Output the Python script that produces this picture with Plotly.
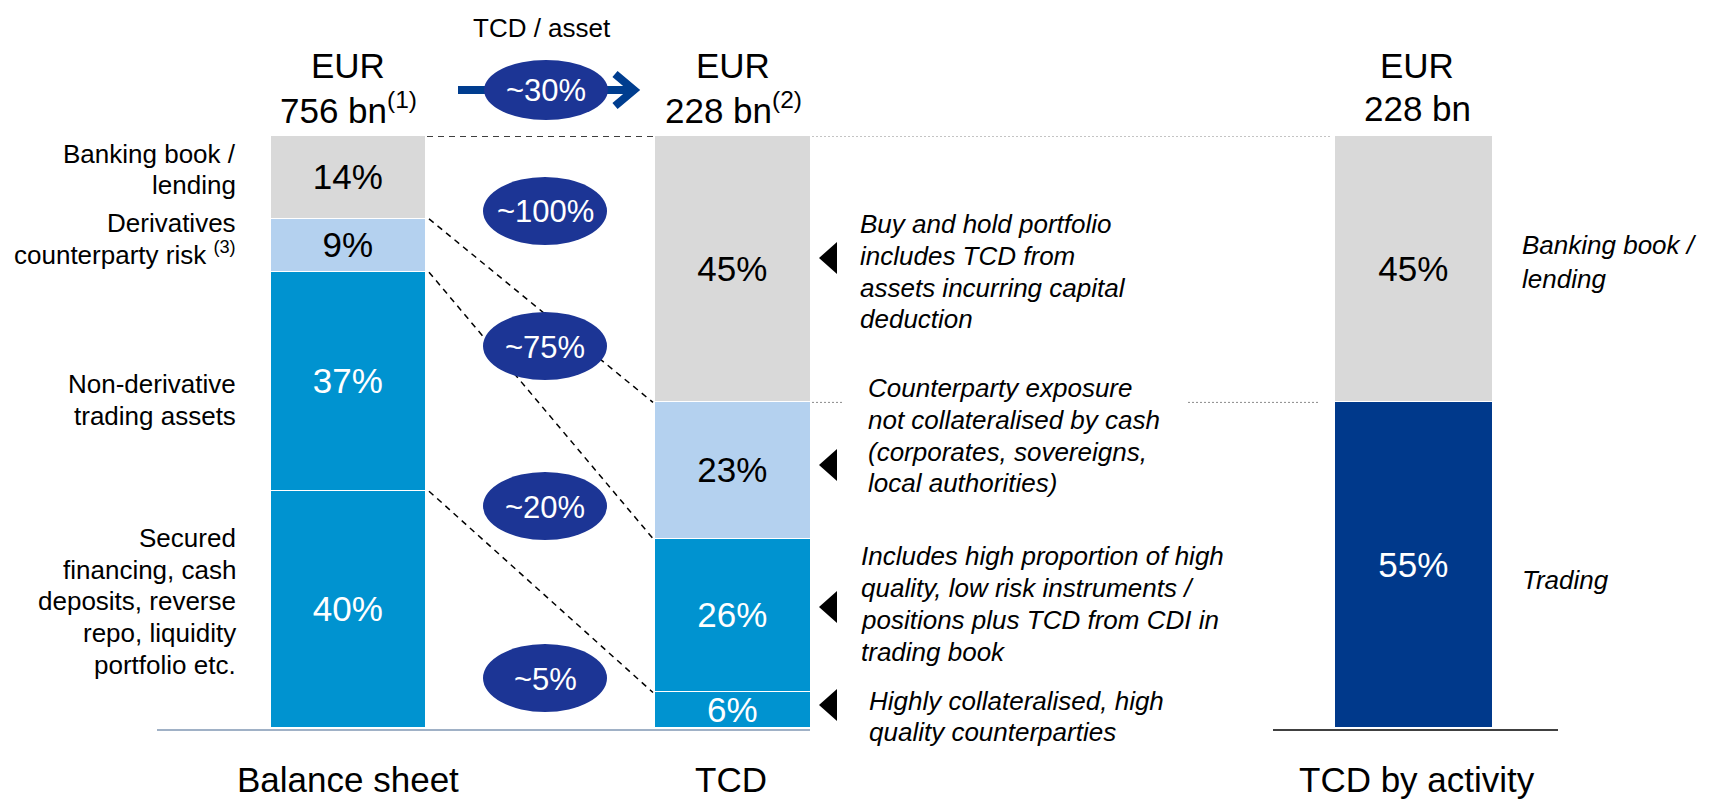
import plotly.graph_objects as go
from itertools import accumulate

W, H = 1720, 802
FONT = "Liberation Sans, Arial, sans-serif"

# ---------------- data ----------------
categories = ["Balance sheet", "TCD", "TCD by activity"]
headers = ["EUR<br>756 bn<sup>(1)</sup>", "EUR<br>228 bn<sup>(2)</sup>", "EUR<br>228 bn"]

# segments listed bottom -> top
bs_labels = ["Secured financing, cash deposits, reverse repo, liquidity portfolio etc.",
             "Non-derivative trading assets", "Derivatives counterparty risk",
             "Banking book / lending"]
bs_values = [40, 37, 9, 14]
tcd_values = [6, 26, 23, 45]
act_labels = ["Trading", "Banking book / lending"]
act_values = [55, 45]
tcd_per_asset = ["~5%", "~20%", "~75%", "~100%"]   # bottom -> top
tcd_per_asset_total = "~30%"

left_labels = [
    ["Secured", "financing, cash", "deposits, reverse", "repo, liquidity", "portfolio etc."],
    ["Non-derivative", "trading assets"],
    ["Derivatives", "counterparty risk <sup>(3)</sup>"],
    ["Banking book /", "lending"],
]
tcd_notes = [
    ["Highly collateralised, high", "quality counterparties"],
    ["Includes high proportion of high", "quality, low risk instruments /",
     "positions plus TCD from CDI in", "trading book"],
    ["Counterparty exposure", "not collateralised by cash",
     "(corporates, sovereigns,", "local authorities)"],
    ["Buy and hold portfolio", "includes TCD from", "assets incurring capital", "deduction"],
]
act_notes = [["Trading"], ["Banking book /", "lending"]]

# ---------------- styling ----------------
GRAY, LIGHT, BLUE, NAVY = "#d9d9d9", "#b4d1ef", "#0093d0", "#00398b"
OVAL = "#1c3595"
bs_colors = [BLUE, BLUE, LIGHT, GRAY]
bs_tcolors = ["white", "white", "black", "black"]
tcd_colors = [BLUE, BLUE, LIGHT, GRAY]
tcd_tcolors = ["white", "white", "black", "black"]
act_colors = [NAVY, GRAY]
act_tcolors = ["white", "black"]


def fx(x):
    return x / W


def fy(y):
    return 1 - y / H


fig = go.Figure()
charts = [
    ("x", categories[0], bs_values, bs_colors, bs_tcolors, bs_labels),
    ("x2", categories[1], tcd_values, tcd_colors, tcd_tcolors, bs_labels),
    ("x3", categories[2], act_values, act_colors, act_tcolors, act_labels),
]
for ax, cat, vals, cols, tcols, names in charts:
    for v, c, tc, nm in zip(vals, cols, tcols, names):
        fig.add_trace(go.Bar(
            x=[cat], y=[v], xaxis=ax, yaxis="y", name=nm, width=1,
            marker=dict(color=c, line=dict(color="white", width=1.5)),
            text=[f"{v}%"], textposition="inside", insidetextanchor="middle",
            textangle=0, constraintext="none",
            textfont=dict(color=tc, size=35, family=FONT),
            showlegend=False, hoverinfo="skip"))

Y_TOP, Y_BOT = 136, 728
axis_common = dict(visible=False, range=[-0.5, 0.5], fixedrange=True)
fig.update_layout(
    width=W, height=H, margin=dict(l=0, r=0, t=0, b=0),
    paper_bgcolor="white", plot_bgcolor="white",
    barmode="stack", bargap=0,
    font=dict(family=FONT, color="black"),
    xaxis=dict(domain=[fx(271), fx(426)], anchor="y", **axis_common),
    xaxis2=dict(domain=[fx(655), fx(811)], anchor="y", **axis_common),
    xaxis3=dict(domain=[fx(1335), fx(1493)], anchor="y", **axis_common),
    yaxis=dict(domain=[fy(Y_BOT), fy(Y_TOP)], range=[0, 100], visible=False,
               fixedrange=True),
)

shapes = []
# baselines
shapes.append(dict(type="line", xref="paper", yref="paper", x0=fx(157), x1=fx(810),
                   y0=fy(730), y1=fy(730), line=dict(color="#8197b3", width=1.5)))
shapes.append(dict(type="line", xref="paper", yref="paper", x0=fx(1273), x1=fx(1558),
                   y0=fy(730), y1=fy(730), line=dict(color="black", width=1.5)))

# dashed connectors balance sheet -> TCD (segment tops)
bs_tops = list(accumulate(bs_values))
tcd_tops = list(accumulate(tcd_values))
for i, (a, b) in enumerate(zip(bs_tops, tcd_tops)):
    x0 = fx(427) if i == len(bs_tops) - 1 else fx(429)
    shapes.append(dict(type="line", xref="paper", yref="y", x0=x0, x1=fx(653),
                       y0=a, y1=b, line=dict(color="black", width=1.5, dash="6px,5px")))

# dotted connectors TCD -> TCD by activity
act_tops = list(accumulate(act_values))
shapes.append(dict(type="line", xref="paper", yref="y", x0=fx(812), x1=fx(1332),
                   y0=tcd_tops[-1], y1=act_tops[-1],
                   line=dict(color="#8a8a8a", width=1, dash="2px,2px")))
for xa, xb in [(812, 842), (1188, 1320)]:
    shapes.append(dict(type="line", xref="paper", yref="y", x0=fx(xa), x1=fx(xb),
                       y0=tcd_tops[-2], y1=act_tops[0],
                       line=dict(color="#8a8a8a", width=1, dash="2px,2px")))

# arrow TCD / asset
ARROW = "#003d8f"
shapes.append(dict(type="line", xref="paper", yref="paper", x0=fx(458), x1=fx(632),
                   y0=fy(90), y1=fy(90), line=dict(color=ARROW, width=8)))
shapes.append(dict(type="path", xref="paper", yref="paper",
                   path=f"M {fx(615)},{fy(74)} L {fx(634)},{fy(90)} L {fx(615)},{fy(106)}",
                   line=dict(color=ARROW, width=8)))

# ovals
ovals = [(546, 90, 62, 30, tcd_per_asset_total)]
oval_centres = [678, 506, 346, 211]   # bottom -> top
for cy, txt in zip(oval_centres, tcd_per_asset):
    ovals.append((545, cy, 62, 34, txt))
for cx, cy, rx, ry, txt in ovals:
    shapes.append(dict(type="circle", xref="paper", yref="paper",
                       x0=fx(cx - rx), x1=fx(cx + rx), y0=fy(cy + ry), y1=fy(cy - ry),
                       fillcolor=OVAL, line=dict(width=0)))
    fig.add_annotation(x=fx(cx), y=fy(cy + 1), xref="paper", yref="paper", text=txt,
                       showarrow=False, xanchor="center", yanchor="middle",
                       font=dict(color="white", size=31, family=FONT))

# triangles pointing to TCD segments (bottom -> top)
tri_centres = [705, 607, 465, 258]
for cy in tri_centres:
    shapes.append(dict(type="path", xref="paper", yref="paper",
                       path=(f"M {fx(819)},{fy(cy)} L {fx(837)},{fy(cy - 16)} "
                             f"L {fx(837)},{fy(cy + 16)} Z"),
                       fillcolor="black", line=dict(width=0)))

fig.update_layout(shapes=shapes)


def add_lines(lines, x, centres, xanchor, size, italic=False, yanchor="middle"):
    for line, yc in zip(lines, centres):
        t = f"<i>{line}</i>" if italic else line
        fig.add_annotation(x=fx(x), y=fy(yc), xref="paper", yref="paper", text=t,
                           showarrow=False, xanchor=xanchor, yanchor=yanchor,
                           font=dict(size=size, color="black", family=FONT))


# headers
for hdr, cx in zip(headers, [348, 733, 1417]):
    lines = hdr.split("<br>")
    add_lines(lines, cx, [65, 108], "center", 35)
add_lines(["TCD / asset"], 542, [28], "center", 26)

# left labels (bottom -> top)
left_centres = [[538, 570, 601, 633, 665], [384, 416], [223, 254], [154, 185]]
for lines, cs in zip(left_labels, left_centres):
    add_lines(lines, 238, cs, "right", 26)

# TCD notes (bottom -> top)
note_x = [867, 859, 866, 858]
note_centres = [[701, 732], [556, 588, 620, 652], [388, 420, 452, 483], [224, 256, 288, 319]]
for lines, x, cs in zip(tcd_notes, note_x, note_centres):
    add_lines(lines, x, cs, "left", 26, italic=True)

# activity notes
act_centres = [[580], [245, 279]]
for lines, cs in zip(act_notes, act_centres):
    add_lines(lines, 1520, cs, "left", 26, italic=True)

# bottom category labels
for cat, cx in zip(categories, [348, 731, 1417]):
    add_lines([cat], cx, [801], "center", 35, yanchor="bottom")

fig.write_html("out.html", config={"displayModeBar": False},
               post_script="document.body.style.margin='0';")
